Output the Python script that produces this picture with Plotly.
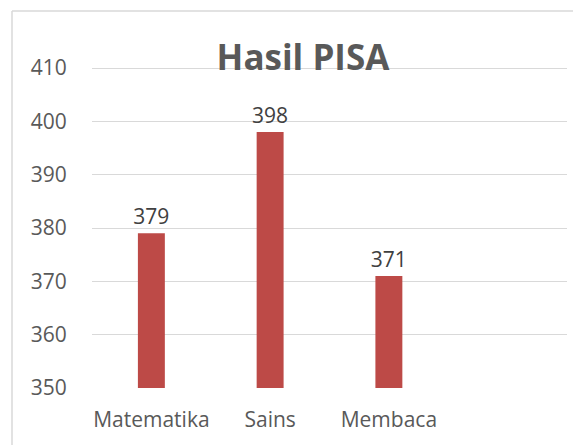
import plotly.graph_objects as go

categories = ["Matematika", "Sains", "Membaca"]
values = [379, 398, 371]
y_ticks = [350, 360, 370, 380, 390, 400, 410]
title_text = "Hasil PISA"

OFF = 8  # page body margin
W, H = 581, 445
ml, mr, mt, mb = 92 - OFF, W - (567 - OFF), 66 - OFF, H - (388 - OFF)
pw, ph = W - ml - mr, H - mt - mb

fig = go.Figure()
fig.add_trace(go.Bar(
    x=categories,
    y=[v - 350 for v in values],
    base=350,
    width=0.227,
    marker=dict(color="#BD4A47", line=dict(width=0)),
    text=[str(v) for v in values],
    textposition="outside",
    constraintext="none",
    textfont=dict(family="Open Sans", size=21, color="#404040"),
    cliponaxis=False,
    hoverinfo="skip",
))

def px_x(p):
    return (p - OFF - ml) / pw

def px_y(p):
    return 1 - (p - OFF - mt) / ph

fig.update_layout(
    width=W, height=H,
    margin=dict(l=ml, r=mr, t=mt, b=mb, pad=0),
    paper_bgcolor="white", plot_bgcolor="white",
    showlegend=False,
    title=dict(text="<b>%s</b>" % title_text, x=(303 - OFF) / W, xanchor="center",
               y=1 - (58 - OFF) / H, yanchor="middle", yref="container", xref="container",
               font=dict(family="Open Sans", size=35, color="#595959")),
    xaxis=dict(type="category", categoryarray=categories + [" "], range=[-0.5, 3.5],
               showgrid=False, showline=False, zeroline=False,
               ticks="outside", ticklen=13, tickcolor="rgba(0,0,0,0)",
               tickfont=dict(family="Open Sans", size=21, color="#595959")),
    yaxis=dict(range=[350, 410.375], tickvals=y_ticks, showgrid=True, gridcolor="#D9D9D9",
               gridwidth=1.2, zeroline=False, showline=False,
               ticks="outside", ticklen=20, tickcolor="rgba(0,0,0,0)",
               tickfont=dict(family="Open Sans", size=21, color="#595959")),
    shapes=[
        dict(type="line", xref="paper", yref="paper", x0=px_x(12), x1=px_x(12),
             y0=px_y(11), y1=px_y(460), line=dict(color="#D9D9D9", width=1.5)),
        dict(type="line", xref="paper", yref="paper", x0=px_x(12), x1=px_x(600),
             y0=px_y(11), y1=px_y(11), line=dict(color="#D9D9D9", width=1.5)),
    ],
)

fig.write_html("out.html")
